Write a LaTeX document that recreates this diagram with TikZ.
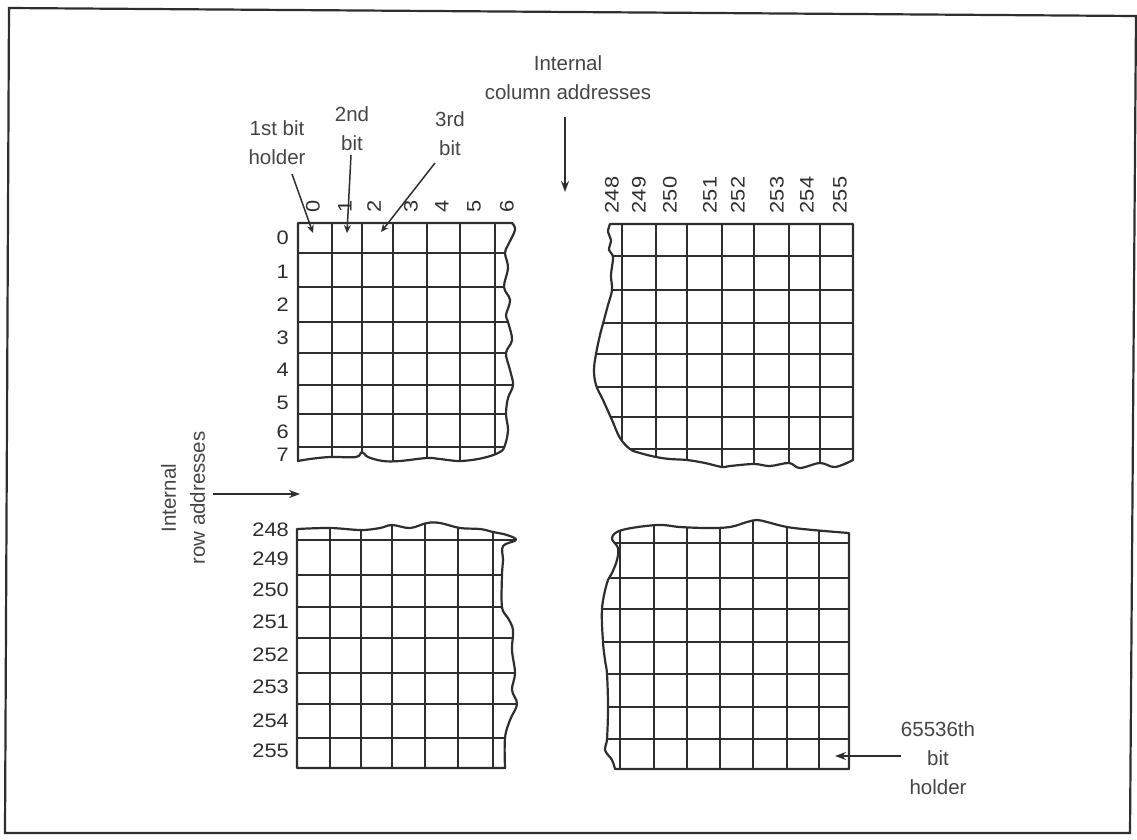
\documentclass[tikz,border=0pt]{standalone}
\usepackage{fontspec}
\setmainfont{Liberation Sans}
\usetikzlibrary{arrows.meta}
\definecolor{ink}{HTML}{2E2E2E}
\definecolor{txt}{HTML}{454545}
\newcommand\dg[1]{\scalebox{1.12}[1]{#1}}
\newcommand\outlineTL[1]{#1 (298,223) -- (512,223) -- plot[smooth,tension=.6] coordinates {(512,223) (515,230) (508,245) (505,253) (508,268) (504,287) (510,300) (506,315) (508,322) (512,340) (506,353) (510,370) (513,385) (508,398) (506,414) (508,430) (505,445) (500,452) (483,458) (460,461) (440,459) (427,458) (400,461) (383,461) (368,457) (362,452) (356,457) (330,457) (310,459) (298,461)} -- cycle;}
\newcommand\outlineTR[1]{#1 (610,224) -- (853,224) -- (853,460) -- plot[smooth,tension=.6] coordinates {(853,460) (835,467) (820,463) (800,468) (789,463) (770,466) (754,464) (730,466) (722,467) (705,463) (687,460) (670,459) (656,457) (640,453) (630,449) (620,438) (612,420) (603,400) (596,385) (594,370) (596,354) (600,335) (604,320) (608,305) (612,290) (611,275) (613,257) (609,250) (611,240) (608,232) (610,224)} -- cycle;}
\newcommand\outlineBL[1]{#1 (297,529) -- plot[smooth,tension=.6] coordinates {(297,529) (330,528) (361,530) (380,528) (392,525) (410,528) (427,523) (440,523) (460,528) (480,529) (493,532) (507,535) (516,540) (503,546) (503,560) (502,575) (502,607) (508,618) (513,630) (512,650) (515,673) (512,690) (517,704) (510,720) (505,738) (505,768)} -- (297,768) -- cycle;}
\newcommand\outlineBR[1]{#1 (849,533) -- (849,769) -- (615,769) -- plot[smooth,tension=.6] coordinates {(615,769) (612,760) (605,750) (607,739) (608,707) (607,674) (605,660) (603,642) (602,609) (607,583) (612,573) (617,560) (618,548) (612,538) (622,530) (657,525) (680,527) (707,528) (730,527) (747,522) (757,520) (767,522) (787,527) (813,530) (849,533)} -- cycle;}
\begin{document}
\begin{tikzpicture}[x=1pt,y=-1pt,
  gridline/.style={draw=ink, line width=2.2pt},
  edge/.style={draw=ink, line width=2.2pt, line join=round},
  frame/.style={draw=ink, line width=2.2pt},
  lbl/.style={text=txt, font=\fontsize{20.5}{29}\selectfont, inner sep=0pt, align=center},
  num/.style={text=ink, font=\fontsize{19.5}{20}\selectfont, inner sep=0pt},
  arr/.style={draw=ink, line width=1.5pt, -{Stealth[length=11pt,width=8pt]}},
  lead/.style={draw=ink, line width=1.5pt, -{Stealth[length=8pt,width=7pt]}}]
\useasboundingbox (0,0) rectangle (1137,839);
\draw[frame] (9,8) -- (1136,16) -- (1130,833) -- (5,833) -- cycle;

% top-left block
\begin{scope}
\outlineTL{\clip}
\foreach \x in {332,362,393,427,460,495} \draw[gridline] (\x,200) -- (\x,480);
\foreach \y in {253,287,322,353,385,414,447} \draw[gridline] (280,\y) -- (530,\y);
\end{scope}
\outlineTL{\draw[edge]}

% top-right block
\begin{scope}
\outlineTR{\clip}
\foreach \x in {622,656,687,722,754,789,820} \draw[gridline] (\x,200) -- (\x,480);
\foreach \y in {256,290,323,354,387,417,449} \draw[gridline] (580,\y) -- (870,\y);
\end{scope}
\outlineTR{\draw[edge]}

% bottom-left block
\begin{scope}
\outlineBL{\clip}
\foreach \x in {330,361,392,425,458,493} \draw[gridline] (\x,510) -- (\x,790);
\foreach \y in {540,575,607,638,673,704,738} \draw[gridline] (280,\y) -- (530,\y);
\end{scope}
\outlineBL{\draw[edge]}

% bottom-right block
\begin{scope}
\outlineBR{\clip}
\foreach \x in {620,654,687,720,753,787,819} \draw[gridline] (\x,510) -- (\x,790);
\foreach \y in {543,578,609,642,674,707,739} \draw[gridline] (580,\y) -- (870,\y);
\end{scope}
\outlineBR{\draw[edge]}

% row labels
\foreach \t/\y in {0/238,1/272,2/305,3/338,4/370,5/403,6/432,7/455}
  \node[num, anchor=east] (row\t) at (289,\y) {\dg{\t}};
\foreach \t/\y in {248/530,249/559,250/590,251/622,252/655,253/687,254/721,255/751}
  \node[num, anchor=east] (row\t) at (289,\y) {\dg{\t}};

% column labels
\foreach \t/\x in {0/313,1/345,2/374,3/411,4/442,5/474,6/507}
  \node[num, rotate=90] (col\t) at (\x,206) {\dg{\t}};
\foreach \t/\x in {248/612,249/639,250/670,251/710,252/738,253/777,254/807,255/840}
  \node[num, rotate=90] (col\t) at (\x,195) {\dg{\t}};

% column addresses
\node[lbl] (coladdr) at (568,78) {Internal\\column addresses};
\coordinate (colA) at (565,117);
\coordinate (colB) at (565,192);
\draw[arr] (colA) -- (colB);

% row addresses
\node[lbl, rotate=90] (rowaddr) at (183,498) {Internal\\row addresses};
\coordinate (rowA) at (213,494);
\coordinate (rowB) at (300,494);
\draw[arr] (rowA) -- (rowB);

% bit holders
\node[lbl] (h1) at (277,143) {1st bit\\holder};
\node[lbl] (h2) at (352,129) {2nd\\bit};
\node[lbl] (h3) at (450,134) {3rd\\bit};
\coordinate (h1a) at (292,174); \coordinate (h1b) at (313,233);
\coordinate (h2a) at (351,155); \coordinate (h2b) at (347,233);
\coordinate (h3a) at (435,163); \coordinate (h3b) at (381,232);
\draw[lead] (h1a) -- (h1b);
\draw[lead] (h2a) -- (h2b);
\draw[lead] (h3a) -- (h3b);

\node[lbl] (hl) at (938,758) {65536th\\bit\\holder};
\coordinate (hlA) at (901,756);
\coordinate (hlB) at (835,756);
\draw[arr] (hlA) -- (hlB);
\end{tikzpicture}
\end{document}
